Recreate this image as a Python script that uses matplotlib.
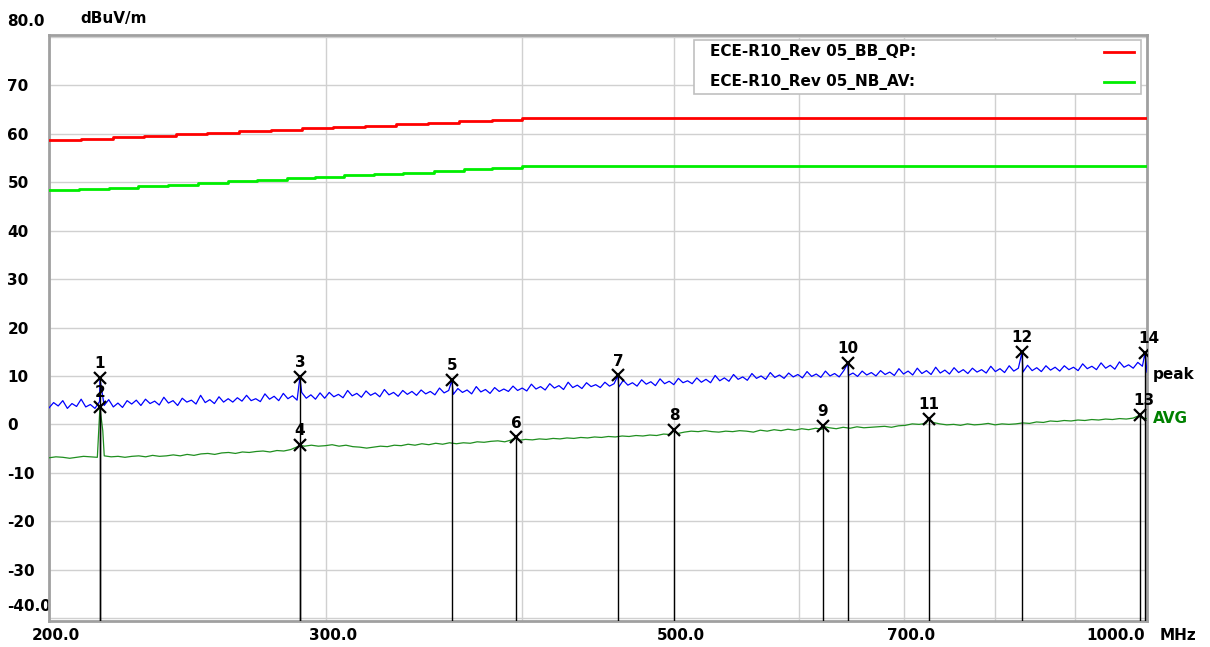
import numpy as np
import matplotlib.pyplot as plt
from matplotlib.patches import Rectangle
from matplotlib.lines import Line2D
from matplotlib.ticker import NullLocator
from matplotlib.transforms import ScaledTranslation, blended_transform_factory

plt.rcParams['font.family'] = ['DejaVu Sans']
plt.rcParams['font.weight'] = 'bold'
plt.rcParams['font.size'] = 11

# limit lines (stepped), MHz / dBuV/m
qp_freq = [200, 209.6, 219.7, 229.9, 240.9, 252.1, 264.2, 276.9, 289.8, 303.2,
           317.8, 332.6, 348.6, 364.7, 382.8, 400.0, 1000]
qp_level = [58.7, 59.0, 59.3, 59.6, 59.9, 60.2, 60.5, 60.8, 61.1, 61.4,
            61.7, 62.0, 62.3, 62.6, 62.9, 63.2, 63.2]
av_freq = [200, 209.0, 218.4, 227.9, 238.1, 248.8, 260.0, 271.3, 283.5, 295.3,
           308.2, 322.0, 336.0, 351.6, 367.4, 382.8, 400.0, 1000]
av_level = [48.3, 48.6, 48.9, 49.2, 49.5, 49.8, 50.2, 50.5, 50.8, 51.1,
            51.4, 51.7, 52.0, 52.4, 52.7, 53.0, 53.3, 53.3]

# measured traces, sweep 200 - 1000 MHz
peak_level = [
    3.4, 4.5, 3.8, 4.9, 3.3, 4.3, 3.7, 5.2, 3.6, 4.1, 3.3, 4.7, 3.9, 5.1, 3.6, 4.4, 3.5, 4.9, 4.2, 5.0,
    3.9, 5.2, 4.3, 4.8, 4.0, 5.6, 4.4, 4.9, 3.9, 5.4, 4.6, 5.0, 4.2, 6.0, 4.5, 5.1, 4.3, 5.7, 4.6, 5.3,
    4.6, 5.5, 4.8, 6.0, 4.9, 5.3, 4.7, 6.3, 5.2, 5.8, 4.9, 6.4, 5.3, 5.9, 5.0, 6.6, 5.4, 6.1, 5.2, 6.5,
    5.4, 6.6, 5.7, 6.2, 5.5, 7.0, 5.9, 6.4, 5.6, 6.9, 6.0, 6.5, 5.7, 7.2, 6.1, 6.6, 5.8, 7.0, 6.2, 6.8,
    6.0, 7.1, 6.3, 6.8, 6.1, 7.5, 6.5, 7.0, 6.2, 7.4, 6.6, 7.1, 6.3, 7.8, 6.7, 7.2, 6.4, 7.6, 6.8, 7.3,
    6.8, 7.9, 7.0, 7.5, 6.9, 8.3, 7.3, 7.8, 7.1, 8.4, 7.5, 8.0, 7.2, 8.7, 7.6, 8.1, 7.4, 8.6, 7.8, 8.2,
    7.6, 8.7, 7.9, 8.4, 7.7, 9.1, 8.1, 8.6, 7.9, 9.2, 8.3, 8.8, 8.0, 9.4, 8.4, 8.9, 8.2, 9.5, 8.6, 9.0,
    8.4, 9.6, 8.7, 9.3, 8.6, 10.1, 9.0, 9.6, 8.9, 10.3, 9.3, 9.8, 9.1, 10.5, 9.5, 10.0, 9.3, 10.7, 9.7, 10.2,
    9.5, 10.6, 9.8, 10.3, 9.6, 10.9, 9.9, 10.4, 9.7, 11.0, 10.0, 10.5, 9.8, 11.1, 10.1, 10.6, 9.9, 11.0, 10.2, 10.7,
    10.0, 11.1, 10.3, 10.8, 10.1, 11.5, 10.4, 11.0, 10.2, 11.6, 10.5, 11.1, 10.3, 11.8, 10.6, 11.2, 10.4, 11.7, 10.7, 11.3,
    10.5, 11.6, 10.8, 11.3, 10.6, 12.0, 10.9, 11.5, 10.7, 12.1, 11.0, 11.6, 10.8, 12.2, 11.1, 11.7, 10.9, 12.1, 11.2, 11.8,
    11.0, 12.1, 11.3, 11.8, 11.1, 12.5, 11.5, 12.0, 11.3, 12.7, 11.6, 12.2, 11.4, 12.9, 11.8, 12.3, 11.6, 12.8, 12.0, 10.8,
]
avg_level = [
    -6.9, -6.7, -6.8, -7.0, -6.8, -6.6, -6.7, -6.8, -6.5, -6.7, -6.6, -6.8, -6.6, -6.5, -6.7, -6.4, -6.6, -6.5, -6.3, -6.5,
    -6.2, -6.4, -6.1, -6.0, -6.2, -5.9, -5.8, -6.0, -5.7, -5.8, -5.6, -5.5, -5.7, -5.4, -5.5, -5.2, -4.6, -4.5, -4.3, -4.5,
    -4.4, -4.2, -4.5, -4.3, -4.6, -4.7, -4.9, -4.7, -4.5, -4.6, -4.3, -4.4, -4.1, -4.3, -4.0, -4.2, -3.9, -4.1, -3.8, -4.0,
    -3.8, -3.9, -3.6, -3.7, -3.5, -3.4, -3.6, -3.2, -3.3, -3.1, -3.2, -3.0, -3.1, -2.9, -3.0, -2.8, -2.9, -2.7, -2.8, -2.6,
    -2.7, -2.5, -2.6, -2.4, -2.5, -2.3, -2.4, -2.2, -2.3, -2.0, -2.1, -1.9, -1.6, -1.4, -1.5, -1.3, -1.5, -1.6, -1.4, -1.5,
    -1.3, -1.4, -1.6, -1.2, -1.4, -1.1, -1.3, -1.0, -1.2, -0.9, -1.1, -0.8, -1.0, -0.7, -0.9, -0.6, -0.8, -0.5, -0.7, -0.6,
    -0.5, -0.4, -0.6, -0.3, -0.2, 0.1, 0.0, 0.2, 0.4, 0.1, -0.1, 0.0, -0.2, 0.1, -0.1, 0.0, 0.2, -0.1, 0.1, 0.0,
    0.1, 0.3, 0.2, 0.5, 0.4, 0.7, 0.6, 0.8, 0.7, 0.9, 0.8, 1.0, 0.9, 1.1, 1.0, 1.2, 1.1, 1.3, 1.4, 1.2,
]
# narrow spike on the average trace next to marker 2
avg_extra_freq = [216.4]
avg_extra_level = [-1.3]

marker_no = list(range(1, 15))
marker_freq = [215.5, 215.5, 288.9, 288.9, 361.0, 396.6, 460.5, 500.0,
               621.8, 645.0, 726.6, 832.6, 989.8, 997.0]
marker_level = [9.5, 3.5, 9.7, -4.3, 9.1, -2.7, 10.1, -1.2,
                -0.4, 12.6, 1.2, 14.9, 1.9, 14.7]
marker_trace = ['peak', 'avg', 'peak', 'avg', 'peak', 'avg', 'peak', 'avg',
                'avg', 'peak', 'avg', 'peak', 'avg', 'peak']

x_ticks = [200, 300, 400, 500, 600, 700, 800, 900, 1000]
x_ticklabels = ['200.0', '300.0', '', '500.0', '', '700.0', '', '', '1000.0']
y_ticks = [-40, -30, -20, -10, 0, 10, 20, 30, 40, 50, 60, 70, 80]
y_ticklabels = ['-40.0', '-30', '-20', '-10', '0', '10', '20', '30', '40', '50', '60', '70', '80.0']

RED = '#ff0000'
LIME = '#00ee00'
BLUE = '#0000ff'
GREEN = '#1f8f1f'

fig = plt.figure(figsize=(12.1, 6.47), dpi=100)
ax = fig.add_axes([49 / 1210, 26 / 647, 1098 / 1210, 586 / 647])


def with_markers(freq, level, kind, extra_f=(), extra_l=()):
    mf = [f for f, t in zip(marker_freq, marker_trace) if t == kind]
    ml = [l for l, t in zip(marker_level, marker_trace) if t == kind]
    f = np.concatenate([freq, mf, extra_f])
    l = np.concatenate([level, ml, extra_l])
    order = np.argsort(f, kind='stable')
    return f[order], l[order]


pf, pl = with_markers(np.geomspace(200, 1000, len(peak_level)), peak_level, 'peak')
af, al = with_markers(np.geomspace(200, 1000, len(avg_level)), avg_level, 'avg',
                      avg_extra_freq, avg_extra_level)

ax.step(qp_freq, qp_level, where='post', color=RED, lw=2.0, zorder=3)
ax.step(av_freq, av_level, where='post', color=LIME, lw=2.0, zorder=3)
ax.plot(pf, pl, color=BLUE, lw=0.9, zorder=4)
ax.plot(af, al, color=GREEN, lw=0.9, zorder=4)

# markers with drop lines
ax.vlines(marker_freq, -41, marker_level, color='black', lw=1.0, zorder=5)
ax.plot(marker_freq, marker_level, 'x', color='black', ms=9, mew=1.6, zorder=6)
for n, f, l in zip(marker_no, marker_freq, marker_level):
    ax.annotate(str(n), (f, l), xytext=(0 if n < 13 else 3, 5), textcoords='offset points',
                ha='center', va='bottom', fontsize=11, fontweight='bold', zorder=7)

ax.set_xscale('log')
ax.set_xlim(200, 1000)
ax.set_ylim(-40.6, 80.4)
ax.xaxis.set_minor_locator(NullLocator())
ax.set_xticks(x_ticks)
ax.set_xticklabels(x_ticklabels)
ax.set_yticks(y_ticks)
ax.set_yticklabels(y_ticklabels)
ax.tick_params(length=0)
ax.tick_params(axis='x', pad=5)
ax.tick_params(axis='y', pad=30)
ax.grid(True, color='#d0d0d0', lw=1.0, zorder=0)
for s in ax.spines.values():
    s.set_color('#a0a0a0')
    s.set_linewidth(2)

for lab in ax.get_yticklabels():
    lab.set_ha('left')
ylabs = ax.get_yticklabels()
ylabs[0].set_transform(ylabs[0].get_transform() + ScaledTranslation(0, 13 / 100, fig.dpi_scale_trans))
ylabs[-1].set_transform(ylabs[-1].get_transform() + ScaledTranslation(0, 17 / 100, fig.dpi_scale_trans))
xlabs = ax.get_xticklabels()
for lab in xlabs:
    lab.set_transform(lab.get_transform() + ScaledTranslation(7 / 100, 0, fig.dpi_scale_trans))
xlabs[-1].set_ha('right')
xlabs[-1].set_transform(xlabs[-1].get_transform() + ScaledTranslation(-9 / 100, 0, fig.dpi_scale_trans))

fig.text(80 / 1210, 1 - 18 / 647, 'dBuV/m', ha='left', va='center', fontsize=11, fontweight='bold')
fig.text(1160 / 1210, 1 - 636 / 647, 'MHz', ha='left', va='center', fontsize=11, fontweight='bold')

tr = blended_transform_factory(ax.transAxes, ax.transData)
ax.text(1.005, 10.3, 'peak', transform=tr, ha='left', va='center', fontsize=11, fontweight='bold')
ax.text(1.005, 1.2, 'AVG', transform=tr, ha='left', va='center', fontsize=11,
        fontweight='bold', color='#008000')

# legend box
ax.add_patch(Rectangle((0.5874, 0.8993), 0.4071, 0.0922, transform=ax.transAxes,
                       facecolor='white', edgecolor='#c0c0c0', lw=1.2, zorder=8))
for yy, name, col in [(0.971, 'ECE-R10_Rev 05_BB_QP:', RED), (0.9198, 'ECE-R10_Rev 05_NB_AV:', LIME)]:
    ax.text(0.602, yy, name, transform=ax.transAxes, ha='left', va='center',
            fontsize=11, fontweight='bold', zorder=9)
    ax.add_line(Line2D([0.9608, 0.9882], [yy, yy], transform=ax.transAxes, color=col, lw=2.0, zorder=9))

fig.savefig('out.png', dpi=100)
